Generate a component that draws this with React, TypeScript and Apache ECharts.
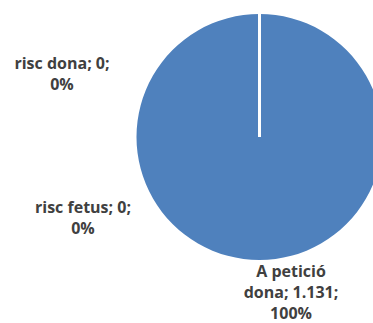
import React, { useEffect, useRef } from "react";
import * as echarts from "echarts";

const categories = ["risc dona", "risc fetus", "A petició dona"];
const values = [0, 0, 1131];
const sliceColors = ["#4F81BD", "#4F81BD", "#4F81BD"];
const labelSpots = [
  { x: 62, y: 73 },
  { x: 83, y: 217 },
  { x: 291, y: 292 },
];

const CX = 259.5;
const CY = 137;
const R = 123;

function fmtNum(v: number): string {
  return String(v).replace(/\B(?=(\d{3})+(?!\d))/g, ".");
}

function wrap(text: string, max: number): string {
  const words = text.split(" ");
  const lines: string[] = [];
  let cur = "";
  for (const w of words) {
    if (cur === "") cur = w;
    else if ((cur + " " + w).length <= max) cur = cur + " " + w;
    else {
      lines.push(cur);
      cur = w;
    }
  }
  if (cur) lines.push(cur);
  return lines.join("\n");
}

export default function App() {
  const ref = useRef<HTMLDivElement>(null);
  useEffect(() => {
    if (!ref.current) return;
    const chart = echarts.init(ref.current, undefined, { renderer: "svg" });
    const total = values.reduce((a, b) => a + b, 0);
    chart.setOption({
      animation: false,
      backgroundColor: "#ffffff",
      graphic: [
        {
          type: "line",
          z: 100,
          shape: { x1: CX, y1: CY - R, x2: CX, y2: CY },
          style: { stroke: "#ffffff", lineWidth: 3 },
          silent: true,
        },
      ],
      series: [
        {
          type: "pie",
          center: [CX, CY],
          radius: [0, R],
          startAngle: 90,
          clockwise: true,
          avoidLabelOverlap: false,
          data: categories.map((c, i) => ({
            name: c,
            value: values[i],
            itemStyle: { color: sliceColors[i] },
          })),
          emphasis: { disabled: true },
          labelLine: { show: false },
          label: {
            show: true,
            position: "outside",
            fontFamily: "Open Sans",
            fontWeight: "bold",
            fontSize: 16,
            lineHeight: 21,
            color: "#404040",
            align: "center",
            formatter: (p: any) => {
              const pct = total ? Math.round((p.value / total) * 100) : 0;
              return wrap(`${p.name}; ${fmtNum(p.value)};`, 14) + `\n${pct}%`;
            },
          },
          labelLayout: (p: any) => ({
            x: labelSpots[p.dataIndex].x,
            y: labelSpots[p.dataIndex].y,
            align: "center",
            verticalAlign: "middle",
          }),
        },
      ],
    });
    return () => chart.dispose();
  }, []);
  return (
    <div
      ref={ref}
      style={{ position: "fixed", left: 0, top: 0, width: 373, height: 323 }}
    />
  );
}
